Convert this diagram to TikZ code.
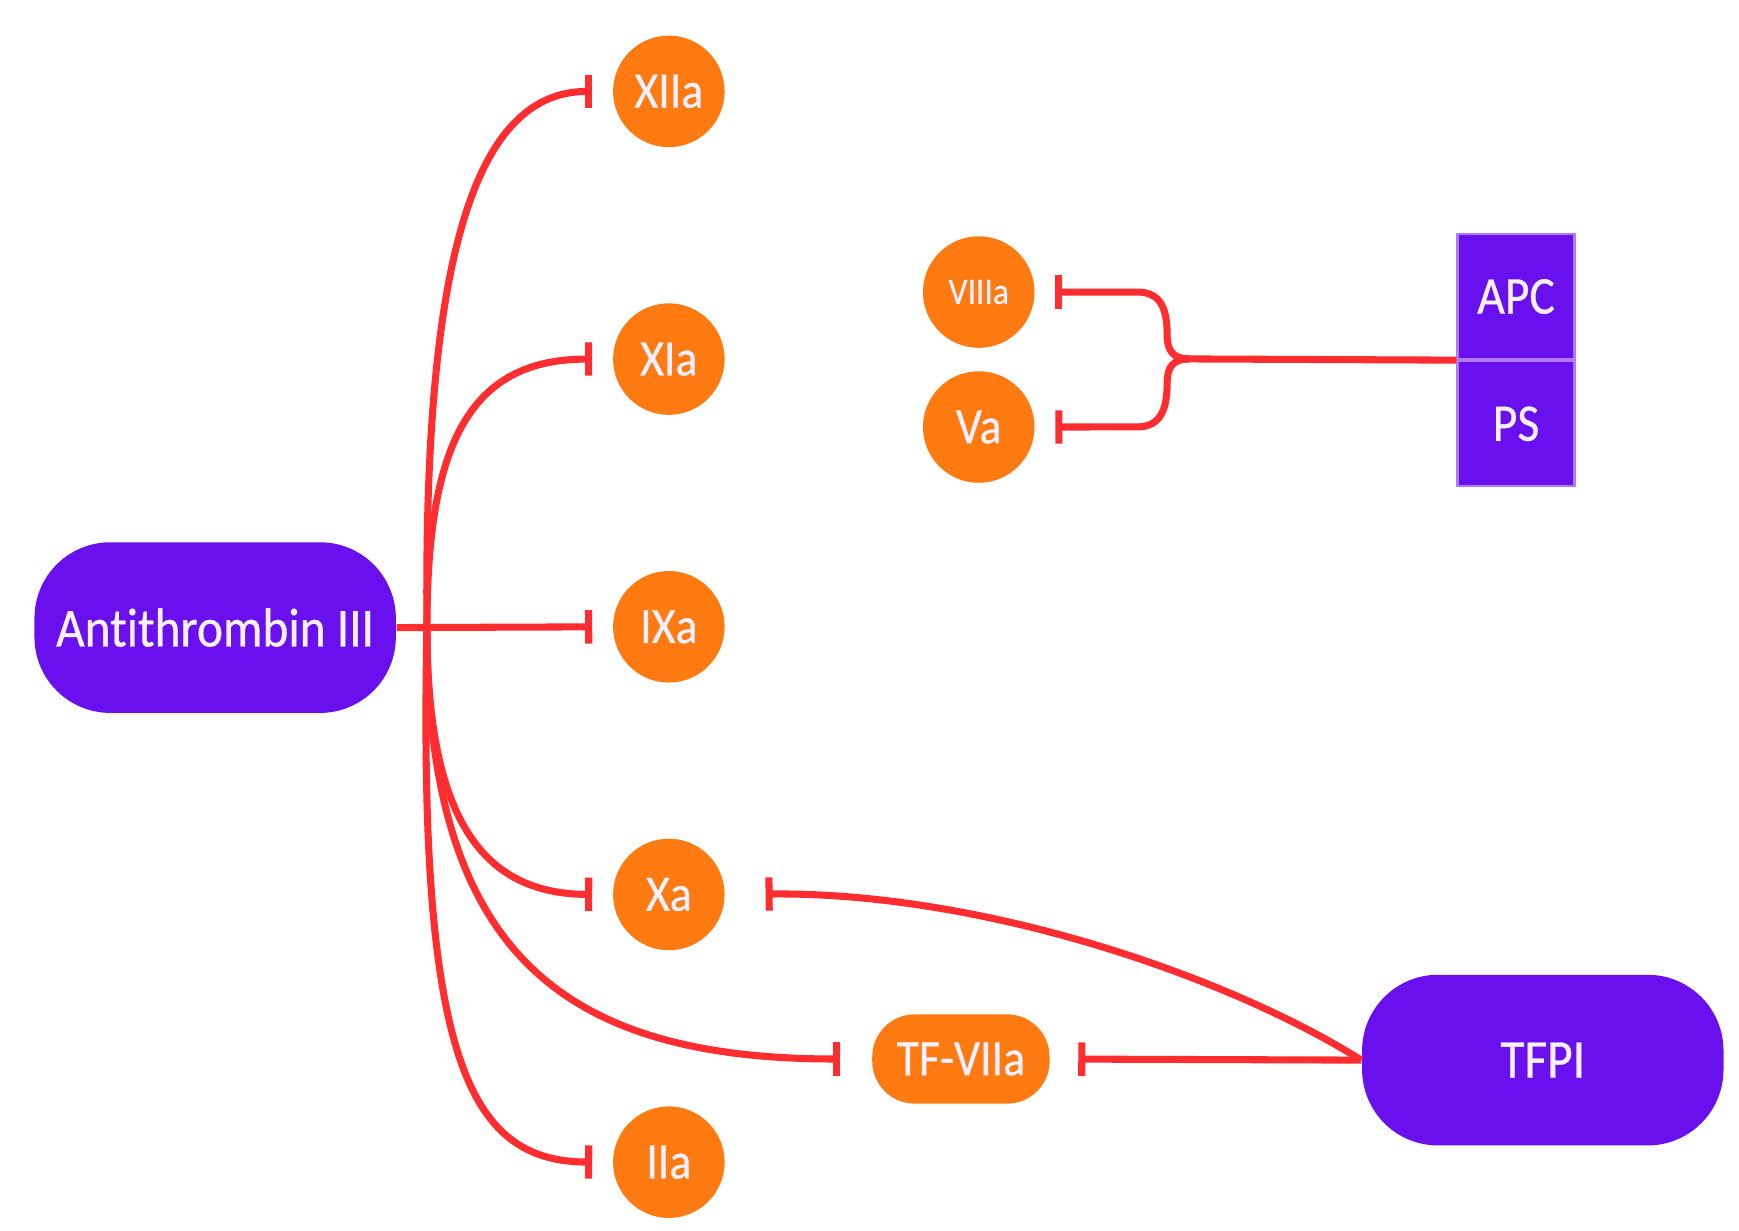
\documentclass[tikz,border=0pt]{standalone}
\usepackage{fontspec}
\setmainfont{Carlito}[FakeStretch=0.9,FakeBold=0.6,Ligatures={NoCommon}]
\usepackage{tikz}
\usetikzlibrary{arrows.meta,positioning,shapes}

\definecolor{atpurple}{RGB}{106,16,238}
\definecolor{factorange}{RGB}{255,122,16}
\definecolor{inhred}{RGB}{255,45,48}
\definecolor{labwhite}{RGB}{246,240,255}

\begin{document}
\begin{tikzpicture}[x=0.01cm,y=-0.01cm,
            factor/.style={circle,fill=factorange,text=labwhite,minimum size=1cm,inner sep=0,node distance=2.4cm,font=\fontsize{13}{13}\selectfont},
            pill/.style={rectangle,rounded corners=0.68cm,fill=atpurple,text=labwhite,minimum width=3.24cm,minimum height=1.53cm,font=\fontsize{14}{14}\selectfont},
            cof/.style={rectangle,fill=atpurple,draw=atpurple!55,line width=0.6pt,text=labwhite,minimum width=1.05cm,minimum height=1.12cm,font=\fontsize{13.5}{13.5}\selectfont},
            inhib/.style={draw=inhred,line width=1.8pt,-{Bar[width=8.5pt]}}
          ]
          \useasboundingbox (0,0) rectangle (1560,1104);

          %factors
          \node[factor] (xiia) at (600,82) {XIIa};
          \node[factor,below of=xiia] (xia) {XIa};
          \node[factor,below of=xia] (ixa) {IXa};
          \node[factor,below of=ixa] (xa) {Xa};
          \node[factor,below of=xa] (iia) {IIa};
          \node[factor,font=\fontsize{9.5}{9.5}\selectfont] (viiia) at (878,262) {VIIIa};
          \node[factor,below of=viiia,node distance=1.21cm] (va) {Va};
          \node[factor,rectangle,rounded corners=0.38cm,minimum width=1.59cm,minimum height=0.8cm] (tfvii) at (862,950) {TF-VIIa};

          %inhibitors
          \node[pill] (atiii) at (193,563) {Antithrombin III};
          \node[pill] (tfpi) at (1384,951) {TFPI};
          \node[cof] (apc) at (1360,266) {APC};
          \node[cof,below=0cm of apc] (ps) {PS};

          \coordinate (hub) at (383,563);
          \coordinate (fork) at (1068,322);

          %antithrombin
          \draw[inhib,shorten >=0.18cm] (hub) .. controls (380,250) and (420,82) .. (xiia.west);
          \draw[inhib,shorten >=0.18cm] (hub) .. controls (383,400) and (420,322) .. (xia.west);
          \draw[inhib,shorten >=0.18cm] (atiii.east) -- (ixa.west);
          \draw[inhib,shorten >=0.18cm] (hub) .. controls (383,730) and (430,802) .. (xa.west);
          \draw[inhib,shorten >=0.28cm] (hub) .. controls (383,850) and (500,950) .. (tfvii.west);
          \draw[inhib,shorten >=0.18cm] (hub) .. controls (375,950) and (420,1042) .. (iia.west);

          %tfpi
          \draw[inhib,shorten >=0.36cm] (tfpi.west) .. controls (1100,875) and (880,800) .. (xa.east);
          \draw[inhib,shorten >=0.25cm] (tfpi.west) -- (tfvii.east);

          %apc and ps
          \draw[inhib,-] (apc.south west) -- (fork);
          \draw[inhib,shorten >=0.18cm] (fork) .. controls (1052,322) and (1047,315) .. (1047,300)
            .. controls (1047,275) and (1040,262) .. (1020,262) -- (viiia.east);
          \draw[inhib,shorten >=0.18cm] (fork) .. controls (1052,322) and (1047,329) .. (1047,344)
            .. controls (1047,369) and (1040,383) .. (1020,383) -- (va.east);
      \end{tikzpicture}
\end{document}
